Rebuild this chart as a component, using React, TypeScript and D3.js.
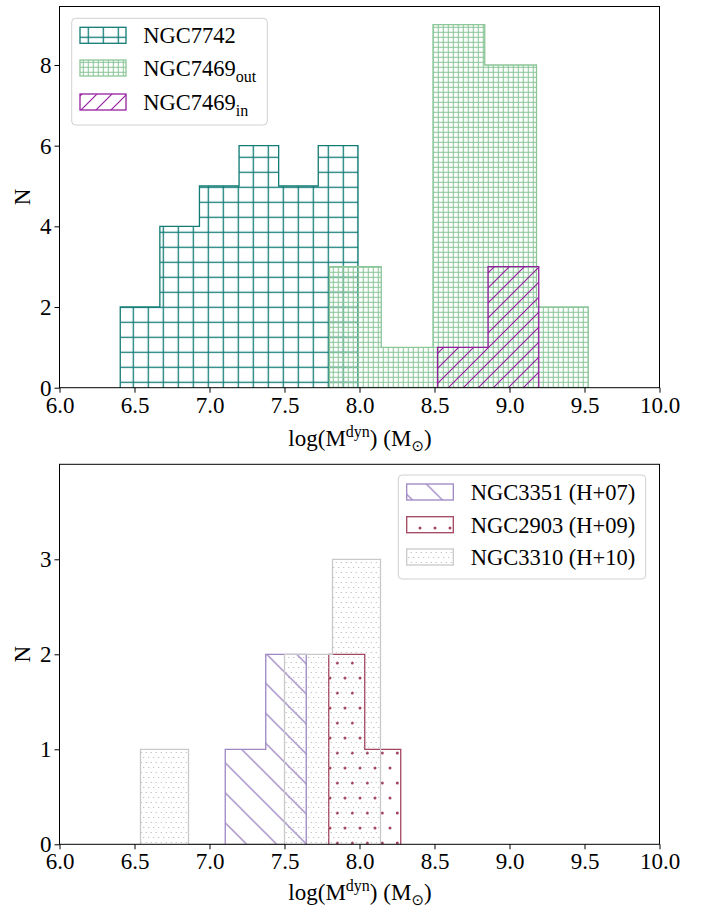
import React, { useEffect, useRef } from "react";
import * as d3 from "d3";

// ---------- data ----------
const xTicks = [6.0, 6.5, 7.0, 7.5, 8.0, 8.5, 9.0, 9.5, 10.0];
const topYTicks = [0, 2, 4, 6, 8];
const bottomYTicks = [0, 1, 2, 3];

const ngc7742Edges = [6.405, 6.669, 6.933, 7.197, 7.461, 7.725, 7.99];
const ngc7742Counts = [2, 4, 5, 6, 5, 6];
const ngc7469OutEdges = [7.8, 8.145, 8.49, 8.835, 9.18, 9.525];
const ngc7469OutCounts = [3, 1, 9, 8, 2];
const ngc7469InEdges = [8.52, 8.857, 9.195];
const ngc7469InCounts = [1, 3];

const ngc3351Edges = [7.105, 7.375, 7.645];
const ngc3351Counts = [1, 2];
const ngc2903Edges = [7.795, 8.035, 8.275];
const ngc2903Counts = [2, 1];
const ngc3310Edges = [6.54, 6.86, 7.18, 7.5, 7.82, 8.14];
const ngc3310Counts = [1, 0, 0, 2, 3];

const topNames = ["NGC7742", "NGC7469", "NGC7469"];
const topSubs = ["", "out", "in"];
const bottomNames = ["NGC3351 (H+07)", "NGC2903 (H+09)", "NGC3310 (H+10)"];

// ---------- styles ----------
const FONT = "Liberation Serif, Times New Roman, DejaVu Serif, serif";
const TEAL = "#117b76";
const GREEN = "#8cc699";
const PURPLE = "#951fa0";
const LAVENDER = "#9d86c3";
const MAROON = "#a3445f";
const GRAY = "#c9c9c9";

const x = d3.scaleLinear().domain([6, 10]).range([59.5, 659.5]);
const topY = d3.scaleLinear().domain([0, 9.45]).range([387.7, 6.5]);
const botY = d3.scaleLinear().domain([0, 4]).range([844.3, 464.3]);

function stepPoints(edges: number[], counts: number[]): [number, number][] {
  const pts: [number, number][] = [[edges[0], 0]];
  counts.forEach((c, i) => {
    pts.push([edges[i], c]);
    pts.push([edges[i + 1], c]);
  });
  pts.push([edges[edges.length - 1], 0]);
  return pts;
}

function Hist({ edges, counts, y, color, pattern, sw = 1.3 }: any) {
  const pts = stepPoints(edges, counts);
  const line = d3
    .line<[number, number]>()
    .x((d) => x(d[0]))
    .y((d) => y(d[1]));
  return (
    <g>
      <path d={line(pts) + "Z"} fill={`url(#${pattern})`} stroke="none" />
      <path d={line(pts) || ""} fill="none" stroke={color} strokeWidth={sw} />
    </g>
  );
}

function XAxis({ y0 }: { y0: number }) {
  const ref = useRef<SVGGElement>(null);
  useEffect(() => {
    const g = d3.select(ref.current as SVGGElement);
    g.call(
      d3
        .axisBottom(x)
        .tickValues(xTicks)
        .tickFormat(d3.format(".1f"))
        .tickSize(5)
        .tickSizeOuter(0)
    );
    g.select(".domain").remove();
    g.attr("font-size", 23).attr("font-family", FONT);
    g.selectAll("line").attr("stroke", "#000");
    g.selectAll("text").attr("fill", "#000").attr("dy", "0.74em");
  }, []);
  return <g ref={ref} transform={`translate(0,${y0})`} />;
}

function YAxis({ scale, ticks }: any) {
  const ref = useRef<SVGGElement>(null);
  useEffect(() => {
    const g = d3.select(ref.current as SVGGElement);
    g.call(
      d3
        .axisLeft(scale)
        .tickValues(ticks)
        .tickFormat(d3.format("d"))
        .tickSize(5)
        .tickSizeOuter(0)
    );
    g.select(".domain").remove();
    g.attr("font-size", 23).attr("font-family", FONT);
    g.selectAll("line").attr("stroke", "#000");
    g.selectAll("text").attr("fill", "#000");
  }, []);
  return <g ref={ref} transform={`translate(59.5,0)`} />;
}

function XLabel({ y0 }: { y0: number }) {
  return (
    <text
      x={360}
      y={y0}
      textAnchor="middle"
      fontFamily={FONT}
      fontSize={23}
      fill="#000"
    >
      <tspan>log(M</tspan>
      <tspan fontSize={16} dy={-9}>
        dyn
      </tspan>
      <tspan dy={9}>) (M</tspan>
      <tspan fontSize={15} dy={5} fontFamily="DejaVu Sans, sans-serif">
        {"\u2299"}
      </tspan>
      <tspan dy={-5}>)</tspan>
    </text>
  );
}

function YLabel({ cy }: { cy: number }) {
  return (
    <text
      transform={`translate(30,${cy}) rotate(-90)`}
      textAnchor="middle"
      fontFamily={FONT}
      fontSize={23}
      fill="#000"
    >
      N
    </text>
  );
}

export default function App() {
  const topColors = [TEAL, GREEN, PURPLE];
  const topPatterns = ["pTeal", "pGreen", "pPurple"];
  const botColors = [LAVENDER, MAROON, GRAY];
  const botPatterns = ["pLav", "pMaroon", "pGray"];
  const topRowY = [35.3, 68, 102];
  const botRowY = [492, 524.7, 557];

  return (
    <svg
      width={703}
      height={914}
      style={{ position: "absolute", left: 0, top: 0, background: "#fff" }}
    >
      <defs>
        <pattern id="pTeal" patternUnits="userSpaceOnUse" x={5.8} y={-0.2} width={15} height={15}>
          <line x1={7.5} y1={0} x2={7.5} y2={15} stroke={TEAL} strokeWidth={1.3} />
          <line x1={0} y1={7.5} x2={15} y2={7.5} stroke={TEAL} strokeWidth={1.3} />
        </pattern>
        <pattern id="pGreen" patternUnits="userSpaceOnUse" x={0.8} y={-0.2} width={5} height={5}>
          <line x1={2.5} y1={0} x2={2.5} y2={5} stroke={GREEN} strokeWidth={1.1} />
          <line x1={0} y1={2.5} x2={5} y2={2.5} stroke={GREEN} strokeWidth={1.1} />
        </pattern>
        <pattern id="pPurple" patternUnits="userSpaceOnUse" x={11} y={0} width={15} height={15}>
          <path d="M-2,2 L2,-2 M0,15 L15,0 M13,17 L17,13" stroke={PURPLE} strokeWidth={1.2} />
        </pattern>
        <pattern id="pLav" patternUnits="userSpaceOnUse" x={2.4} y={0} width={30} height={30}>
          <path d="M0,0 L30,30 M-2,28 L2,32 M28,-2 L32,2" stroke={LAVENDER} strokeWidth={1.3} />
        </pattern>
        <pattern id="pMaroon" patternUnits="userSpaceOnUse" x={0} y={0} width={15} height={30}>
          <circle cx={7.3} cy={3} r={1.5} fill={MAROON} />
          <circle cx={0} cy={18} r={1.5} fill={MAROON} />
          <circle cx={15} cy={18} r={1.5} fill={MAROON} />
        </pattern>
        <pattern id="pGray" patternUnits="userSpaceOnUse" x={0} y={0} width={5} height={10}>
          <circle cx={1.25} cy={2.5} r={0.6} fill="#a8a8a8" />
          <circle cx={3.75} cy={7.5} r={0.6} fill="#a8a8a8" />
        </pattern>
      </defs>

      <rect x={0} y={0} width={703} height={914} fill="#fff" />

      {/* ---------- top panel ---------- */}
      <Hist edges={ngc7742Edges} counts={ngc7742Counts} y={topY} color={TEAL} pattern="pTeal" />
      <Hist edges={ngc7469OutEdges} counts={ngc7469OutCounts} y={topY} color={GREEN} pattern="pGreen" />
      <Hist edges={ngc7469InEdges} counts={ngc7469InCounts} y={topY} color={PURPLE} pattern="pPurple" />
      <rect x={59.5} y={6.5} width={600} height={381.2} fill="none" stroke="#000" strokeWidth={1} />
      <XAxis y0={387.7} />
      <YAxis scale={topY} ticks={topYTicks} />
      <XLabel y0={446} />
      <YLabel cy={197} />

      {/* top legend */}
      <rect x={71.7} y={18.3} width={195.6} height={106.7} rx={4} fill="#fff" fillOpacity={0.8} stroke="#d0d0d0" strokeWidth={1} />
      {topNames.map((name, i) => (
        <g key={name + i}>
          <rect
            x={80}
            y={topRowY[i] - 8}
            width={46}
            height={16}
            fill={`url(#${topPatterns[i]})`}
            stroke={topColors[i]}
            strokeWidth={1.3}
          />
          <text x={143.3} y={topRowY[i] + 8} fontFamily={FONT} fontSize={22.5} fill="#000">
            <tspan>{name}</tspan>
            {topSubs[i] ? (
              <tspan fontSize={16} dy={5.5}>
                {topSubs[i]}
              </tspan>
            ) : null}
          </text>
        </g>
      ))}

      {/* ---------- bottom panel ---------- */}
      <Hist edges={ngc3351Edges} counts={ngc3351Counts} y={botY} color={LAVENDER} pattern="pLav" />
      <Hist edges={ngc2903Edges} counts={ngc2903Counts} y={botY} color={MAROON} pattern="pMaroon" />
      <Hist edges={ngc3310Edges} counts={ngc3310Counts} y={botY} color={GRAY} pattern="pGray" />
      <rect x={59.5} y={464.3} width={600} height={380} fill="none" stroke="#000" strokeWidth={1} />
      <XAxis y0={844.3} />
      <YAxis scale={botY} ticks={bottomYTicks} />
      <XLabel y0={900} />
      <YLabel cy={654.3} />

      {/* bottom legend */}
      <rect x={398.3} y={475} width={247.4} height={104} rx={4} fill="#fff" fillOpacity={0.8} stroke="#d0d0d0" strokeWidth={1} />
      {bottomNames.map((name, i) => (
        <g key={name}>
          <rect
            x={406.7}
            y={botRowY[i] - 8}
            width={46.6}
            height={16}
            fill={`url(#${botPatterns[i]})`}
            stroke={botColors[i]}
            strokeWidth={1.3}
          />
          <text x={470.7} y={botRowY[i] + 8} fontFamily={FONT} fontSize={22.5} fill="#000">
            {name}
          </text>
        </g>
      ))}
    </svg>
  );
}
